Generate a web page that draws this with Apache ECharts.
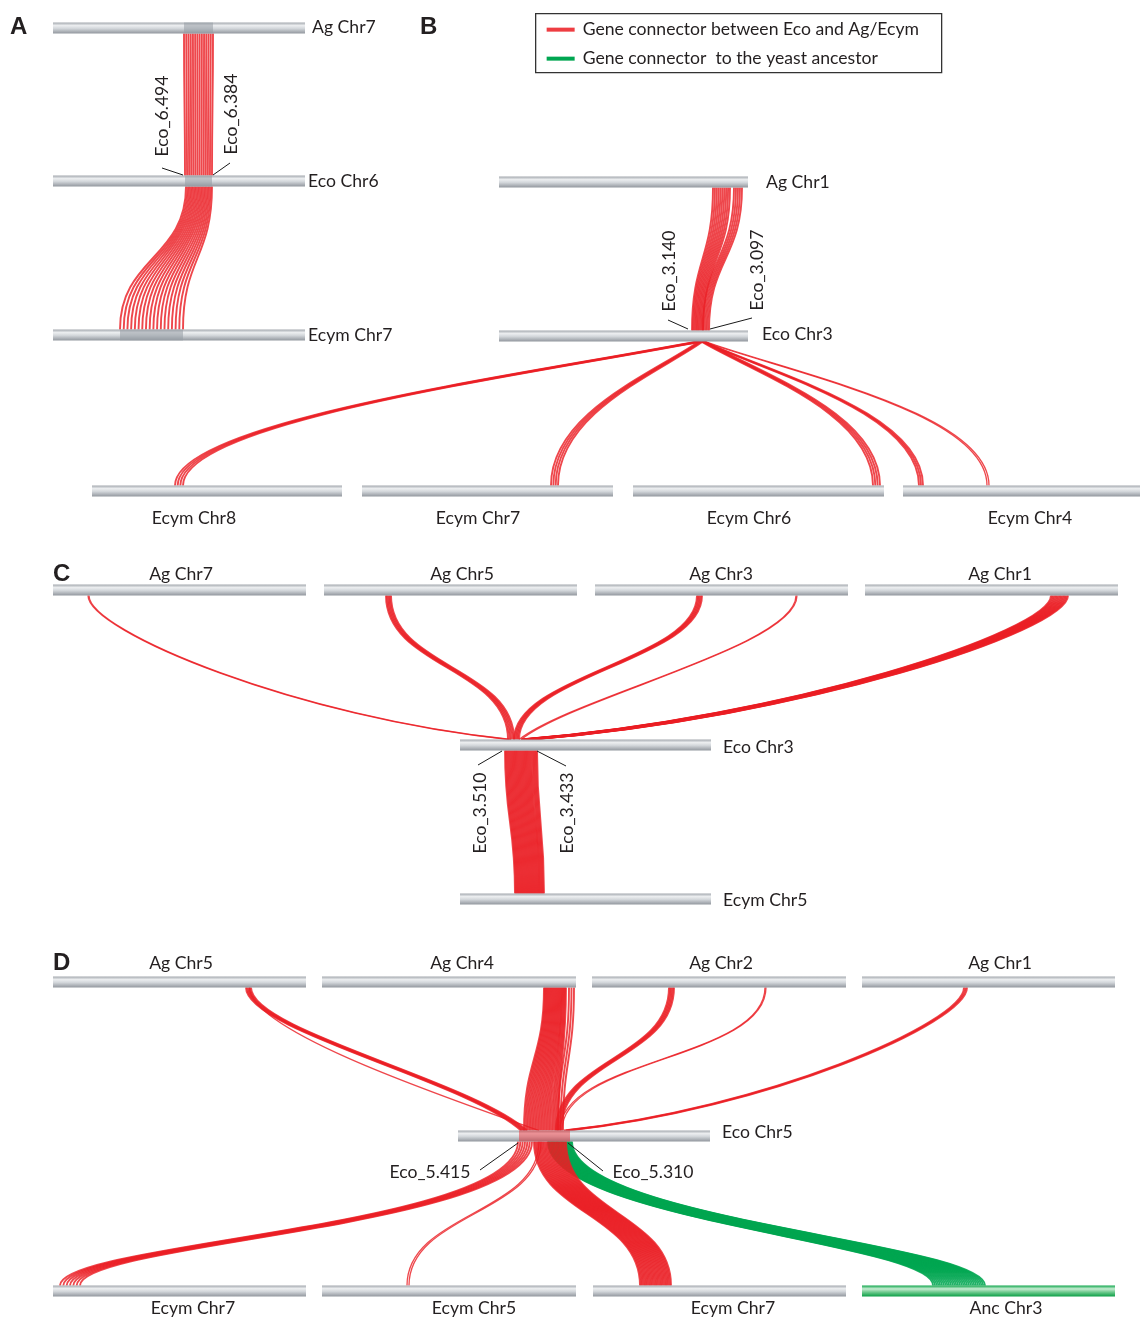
<!DOCTYPE html>
<html>
<head>
<meta charset="utf-8">
<script src="https://cdn.jsdelivr.net/npm/echarts@6/dist/echarts.min.js"></script>
<style>
  html, body { margin: 0; padding: 0; background: #fff; }
  #main { width: 1140px; height: 1319px; }
</style>
</head>
<body>
<div id="main"></div>
<script>
// ---- Chromosome bars: start/end along the row, row = vertical track ----
const chromNames = [
  'Ag Chr7', 'Eco Chr6', 'Ecym Chr7',
  'Ag Chr1', 'Eco Chr3', 'Ecym Chr8', 'Ecym Chr7', 'Ecym Chr6', 'Ecym Chr4',
  'Ag Chr7', 'Ag Chr5', 'Ag Chr3', 'Ag Chr1', 'Eco Chr3', 'Ecym Chr5',
  'Ag Chr5', 'Ag Chr4', 'Ag Chr2', 'Ag Chr1', 'Eco Chr5', 'Ecym Chr7', 'Ecym Chr5', 'Ecym Chr7', 'Anc Chr3'
];
const chromStart = [53, 53, 53, 499, 499, 92, 362, 633, 903, 53, 324, 595, 865, 460, 460, 53, 322, 592, 862, 458, 53, 322, 593, 862];
const chromEnd   = [305, 305, 305, 748, 748, 342, 613, 884, 1160, 306, 577, 848, 1118, 711, 711, 306, 576, 846, 1115, 710, 306, 576, 846, 1115];
const chromRow   = [28, 181, 335, 182, 336, 491, 491, 491, 491, 590, 590, 590, 590, 745, 899, 982, 982, 982, 982, 1136, 1291, 1291, 1291, 1291];
const chromAncestral = [0,0,0, 0,0,0,0,0,0, 0,0,0,0,0,0, 0,0,0,0,0,0,0,0,1];

// Syntenic blocks marked on bars: bar index, span, 0 = block, 1 = Eco hub
const blockChrom = [0, 1, 2, 19];
const blockSpan  = [[184, 213], [185, 212], [120, 183], [519, 570]];
const blockKind  = [0, 0, 0, 1];

// ---- Gene connector bundles ----
// source bar, span on source, target bar, span on target, number of genes, lineage
const linkFrom     = [0, 1,  3, 3, 4, 4, 4, 4, 4,  9, 10, 11, 11, 12, 13,  15, 15, 16, 16, 17, 17, 18, 19, 19, 19, 19];
const linkFromSpan = [[184,213],[186,212], [713,730],[734,742],[697,701],[699,703],[701,705],[702,704],[703,705],
                      [88,89],[386,391],[697,702],[796,797],[1051,1068],[505,537],
                      [246,251],[249,250],[544,566],[569,574],[669,674],[765,766],[964,967],[548,572],[518,532],[539,541],[534,566]];
const linkTo       = [1, 2,  4, 4, 5, 6, 7, 8, 8,  13, 13, 13, 13, 13, 14,  19, 19, 19, 19, 19, 19, 19, 23, 20, 21, 22];
const linkToSpan   = [[185,212],[120,183], [692,703],[703,709],[175,183],[551,558],[873,880],[919,923],[987,989],
                      [509,511],[508,514],[514,519],[519,521],[521,531],[515,544],
                      [521,527],[538,540],[524,558],[558,563],[556,561],[560,562],[564,568],[933,985],[60,80],[407,409],[640,671]];
const linkGenes    = [14, 18, 10, 5, 4, 4, 4, 3, 2, 2, 5, 5, 2, 14, 30, 5, 1, 24, 3, 5, 2, 3, 30, 7, 2, 26];
const linkLineage  = [0,0, 0,0,0,0,0,0,0, 0,0,0,0,0,0, 0,0,0,0,0,0,0,1,0,0,0];

// Curve shape of each bundle: [source pull x, source pull y, target pull x, target pull y]
const linkBend = [
  [0,.5,0,.5],[0,.5,0,.5],
  [0,.5,0,.5],[0,.5,0,.5],[.33,.23,0,.45],[.33,.23,0,.5],[.33,.23,0,.5],[.33,.23,0,.5],[.33,.23,0,.5],
  [0,.25,.5,.15],[0,.5,0,.5],[0,.45,0,.45],[0,.35,.2,.3],[0,.25,.5,.15],[0,.5,0,.5],
  [0,.3,.2,.35],[0,.3,.35,.25],[0,.5,0,.5],[0,.5,0,.5],[0,.5,0,.5],[0,.5,0,.5],[0,.25,.5,.15],
  [0,.55,0,.3],[0,.6,0,.3],[0,.5,0,.5],[0,.5,0,.5]
];

// ---- Gene boundary tags ----
const tagNames = ['Eco_6.494', 'Eco_6.384', 'Eco_3.140', 'Eco_3.097', 'Eco_3.510', 'Eco_3.433', 'Eco_5.415', 'Eco_5.310'];
const tagAt    = [[162,116],[231,114],[669,271],[757,270],[480,813],[567,813],[430,1172],[653,1172]];
const tagUpright = [1, 1, 1, 1, 1, 1, 0, 0];
const tagLeader = [[162,168,183,175],[230,163,213,175],[668,320,688,329],[752,318,710,329],
                   [478,765,502,751],[566,766,537,751],[480,1170,518,1143],[603,1171,568,1143]];

// Label anchors of the bars: x, y, alignment
const chromLabelAt = [
  [312,27,'left'],[308,181,'left'],[308,335,'left'],
  [766,182,'left'],[762,334,'left'],[194,518,'center'],[478,518,'center'],[749,518,'center'],[1030,518,'center'],
  [181,574,'center'],[462,574,'center'],[721,574,'center'],[1000,574,'center'],[723,747,'left'],[723,900,'left'],
  [181,963,'center'],[462,963,'center'],[721,963,'center'],[1000,963,'center'],[722,1132,'left'],
  [193,1308,'center'],[474,1308,'center'],[733,1308,'center'],[1006,1308,'center']
];

const FONT = '17.6px Lato, "Open Sans", sans-serif';
const TEXT = '#231f20';
const BAR_H = 11;
const RED = 'rgba(234,30,36,0.82)';
const GREEN = 'rgba(0,166,81,0.88)';

const greyBar = () => new echarts.graphic.LinearGradient(0, 0, 0, 1, [
  { offset: 0, color: '#a3a8ae' }, { offset: 0.28, color: '#eceef0' },
  { offset: 0.55, color: '#d2d6da' }, { offset: 1, color: '#92979e' }
]);
const greenBar = () => new echarts.graphic.LinearGradient(0, 0, 0, 1, [
  { offset: 0, color: '#0fa64c' }, { offset: 0.3, color: '#c6ecd2' },
  { offset: 0.6, color: '#6fca8e' }, { offset: 1, color: '#0b9f46' }
]);

// data rows for the series
const barData = chromNames.map((n, i) => ({ name: n, value: [chromStart[i], Math.min(chromEnd[i], 1140), chromRow[i], chromAncestral[i]] }));
const blockData = blockChrom.map((c, i) => ({ value: [blockSpan[i][0], blockSpan[i][1], chromRow[c], blockKind[i]] }));
const linkData = lineage => linkFrom.map((f, i) => ({ i, f })).filter(o => linkLineage[o.i] === lineage).map(({ i, f }) => ({
  value: [linkFromSpan[i][0], linkFromSpan[i][1], chromRow[f] + BAR_H / 2,
          linkToSpan[i][0], linkToSpan[i][1], chromRow[linkTo[i]] - BAR_H / 2,
          linkGenes[i], ...linkBend[i]]
}));
const labelData = chromNames.map((n, i) => ({ name: n, value: [chromLabelAt[i][0], chromLabelAt[i][1]], align: chromLabelAt[i][2] }));
const tagData = tagNames.map((n, i) => ({ name: n, value: [tagAt[i][0], tagAt[i][1], tagUpright[i]] }));
const leaderData = tagLeader.map(l => ({ value: l }));

function renderBundle(color) {
  return function (params, api) {
    const a0 = api.value(0), a1 = api.value(1), ya = api.value(2);
    const b0 = api.value(3), b1 = api.value(4), yb = api.value(5);
    const n = api.value(6);
    const ax = api.value(7), ay = api.value(8), bx = api.value(9), by = api.value(10);
    const lw = n <= 2 ? 1.3 : 1.9;
    const children = [];
    for (let g = 0; g < n; g++) {
      const f = n === 1 ? 0.5 : g / (n - 1);
      const p = api.coord([a0 + f * (a1 - a0), ya]);
      const q = api.coord([b0 + f * (b1 - b0), yb]);
      const dx = q[0] - p[0], dy = q[1] - p[1];
      children.push({
        type: 'bezierCurve',
        shape: {
          x1: p[0], y1: p[1], x2: q[0], y2: q[1],
          cpx1: p[0] + ax * dx, cpy1: p[1] + ay * dy,
          cpx2: q[0] - bx * dx, cpy2: q[1] - by * dy
        },
        style: { stroke: color, lineWidth: lw, fill: null }
      });
    }
    return { type: 'group', children };
  };
}

const chart = echarts.init(document.getElementById('main'), null, { renderer: 'canvas', width: 1140, height: 1319 });

chart.setOption({
  animation: false,
  backgroundColor: '#ffffff',
  grid: { left: 0, right: 0, top: 0, bottom: 0 },
  xAxis: { type: 'value', min: 0, max: 1140, show: false },
  yAxis: { type: 'value', min: 0, max: 1319, inverse: true, show: false },
  series: [
    {
      name: 'Gene connector to the yeast ancestor', type: 'custom', z: 1, silent: true,
      renderItem: renderBundle(GREEN), data: linkData(1)
    },
    {
      name: 'Gene connector between Eco and Ag/Ecym', type: 'custom', z: 2, silent: true,
      renderItem: renderBundle(RED), data: linkData(0)
    },
    {
      name: 'chromosomes', type: 'custom', z: 3, silent: true,
      renderItem(params, api) {
        const p = api.coord([api.value(0), api.value(2)]);
        const q = api.coord([api.value(1), api.value(2)]);
        return {
          type: 'rect',
          shape: { x: p[0], y: p[1] - BAR_H / 2, width: q[0] - p[0], height: BAR_H },
          style: { fill: api.value(3) ? greenBar() : greyBar() }
        };
      },
      data: barData
    },
    {
      name: 'blocks', type: 'custom', z: 4, silent: true,
      renderItem(params, api) {
        const p = api.coord([api.value(0), api.value(2)]);
        const q = api.coord([api.value(1), api.value(2)]);
        const hub = api.value(3) === 1;
        return {
          type: 'rect',
          shape: { x: p[0], y: p[1] - BAR_H / 2, width: q[0] - p[0], height: BAR_H },
          style: { fill: hub ? 'rgba(234,33,39,0.45)' : 'rgba(150,156,164,0.55)' }
        };
      },
      data: blockData
    },
    {
      name: 'bar labels', type: 'custom', z: 5, silent: true,
      renderItem(params, api) {
        const p = api.coord([api.value(0), api.value(1)]);
        return {
          type: 'text', x: p[0], y: p[1],
          style: { text: labelData[params.dataIndex].name, font: FONT, fill: TEXT,
                   align: labelData[params.dataIndex].align, verticalAlign: 'middle' }
        };
      },
      data: labelData
    },
    {
      name: 'tag leaders', type: 'custom', z: 5, silent: true,
      renderItem(params, api) {
        const p = api.coord([api.value(0), api.value(1)]);
        const q = api.coord([api.value(2), api.value(3)]);
        return { type: 'line', shape: { x1: p[0], y1: p[1], x2: q[0], y2: q[1] },
                 style: { stroke: '#1a1a1a', lineWidth: 1 } };
      },
      data: leaderData
    },
    {
      name: 'tags', type: 'custom', z: 5, silent: true,
      renderItem(params, api) {
        const p = api.coord([api.value(0), api.value(1)]);
        return {
          type: 'text', x: p[0], y: p[1], rotation: api.value(2) ? Math.PI / 2 : 0,
          style: { text: tagNames[params.dataIndex], font: FONT, fill: TEXT, align: 'center', verticalAlign: 'middle' }
        };
      },
      data: tagData
    }
  ],
  graphic: [
    { type: 'text', left: 10, top: 15, style: { text: 'A', font: 'bold 24px "Liberation Sans", Arial, sans-serif', fill: '#231f20' } },
    { type: 'text', left: 420, top: 15, style: { text: 'B', font: 'bold 24px "Liberation Sans", Arial, sans-serif', fill: '#231f20' } },
    { type: 'text', left: 53, top: 562, style: { text: 'C', font: 'bold 24px "Liberation Sans", Arial, sans-serif', fill: '#231f20' } },
    { type: 'text', left: 53, top: 951, style: { text: 'D', font: 'bold 24px "Liberation Sans", Arial, sans-serif', fill: '#231f20' } },
    {
      type: 'group', left: 535, top: 13,
      children: [
        { type: 'rect', shape: { x: 0, y: 0, width: 406, height: 59 }, style: { fill: '#fff', stroke: '#333', lineWidth: 1.3 } },
        { type: 'line', shape: { x1: 11, y1: 16, x2: 39, y2: 16 }, style: { stroke: '#ee3d42', lineWidth: 4 } },
        { type: 'line', shape: { x1: 11, y1: 45, x2: 39, y2: 45 }, style: { stroke: '#00a651', lineWidth: 4 } },
        { type: 'text', x: 47, y: 16, style: { text: 'Gene connector between Eco and Ag/Ecym', font: FONT, fill: TEXT, verticalAlign: 'middle' } },
        { type: 'text', x: 47, y: 45, style: { text: 'Gene connector  to the yeast ancestor', font: FONT, fill: TEXT, verticalAlign: 'middle' } }
      ]
    }
  ]
});
</script>
</body>
</html>
